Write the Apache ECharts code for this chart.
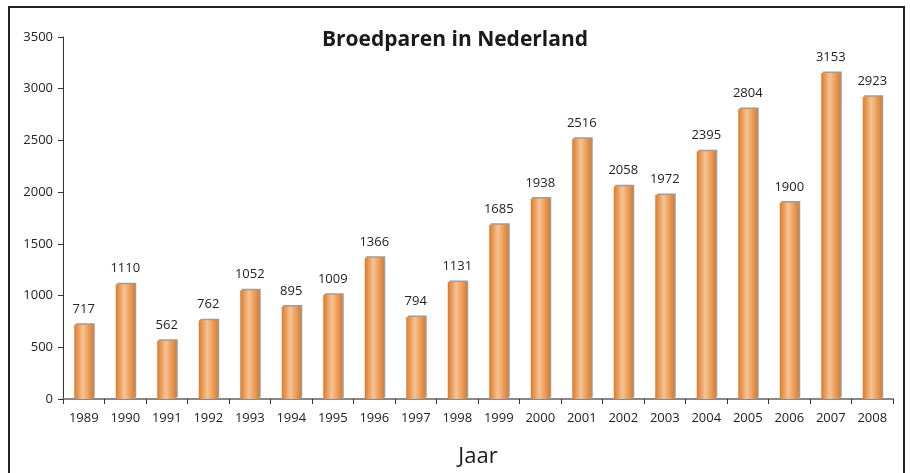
<!DOCTYPE html>
<html>
<head>
<meta charset="utf-8">
<script src="https://cdn.jsdelivr.net/npm/echarts@6/dist/echarts.min.js"></script>
<style>
html,body{margin:0;padding:0;background:#fff;}
#c{width:910px;height:473px;}
</style>
</head>
<body>
<div id="c"></div>
<script>
const years = ['1989','1990','1991','1992','1993','1994','1995','1996','1997','1998','1999','2000','2001','2002','2003','2004','2005','2006','2007','2008'];
const pairs = [717,1110,562,762,1052,895,1009,1366,794,1131,1685,1938,2516,2058,1972,2395,2804,1900,3153,2923];
const yTicks = [0,500,1000,1500,2000,2500,3000,3500];

const chart = echarts.init(document.getElementById('c'));
const font = '"Open Sans", "Noto Sans", sans-serif';
chart.setOption({
  animation:false,
  backgroundColor:'#fff',
  title:{
    text:'Broedparen in Nederland',
    left:'center', top:25,
    textStyle:{fontFamily:font,fontWeight:'bold',fontSize:21,color:'#1a1a1a'}
  },
  graphic:[{
    type:'rect',
    shape:{x:9,y:7,width:895,height:480},
    style:{fill:'none',stroke:'#222',lineWidth:2},
    silent:true
  }],
  grid:{left:63,right:17,top:37,bottom:74},
  xAxis:{
    type:'category',
    data:years,
    name:'Jaar',
    nameLocation:'middle',
    nameGap:47,
    nameTextStyle:{fontFamily:font,fontSize:22,color:'#1a1a1a'},
    axisLine:{lineStyle:{color:'#888',width:2}},
    axisTick:{show:true,length:5,lineStyle:{color:'#333',width:1}},
    axisLabel:{fontFamily:font,fontSize:13,color:'#222',margin:13}
  },
  yAxis:{
    type:'value',
    min:yTicks[0], max:yTicks[yTicks.length-1], interval:500,
    splitLine:{show:false},
    axisLine:{show:true,lineStyle:{color:'#333',width:1}},
    axisTick:{show:true,length:5,lineStyle:{color:'#333'}},
    axisLabel:{fontFamily:font,fontSize:13,color:'#222',margin:10,formatter:function(v){return String(v);}}
  },
  series:[{
    type:'bar',
    data:pairs,
    barWidth:19,
    itemStyle:{
      color:new echarts.graphic.LinearGradient(0,0,1,0,[
        {offset:0,color:'#dd7a2a'},
        {offset:0.45,color:'#f6c393'},
        {offset:1,color:'#df7d2c'}
      ]),
      shadowColor:'rgba(90,90,90,0.6)',
      shadowOffsetX:1.5,
      shadowOffsetY:-1.5,
      shadowBlur:0
    },
    label:{
      show:true,position:'top',distance:9,
      fontFamily:font,fontSize:13,color:'#222'
    }
  }]
});
</script>
</body>
</html>
